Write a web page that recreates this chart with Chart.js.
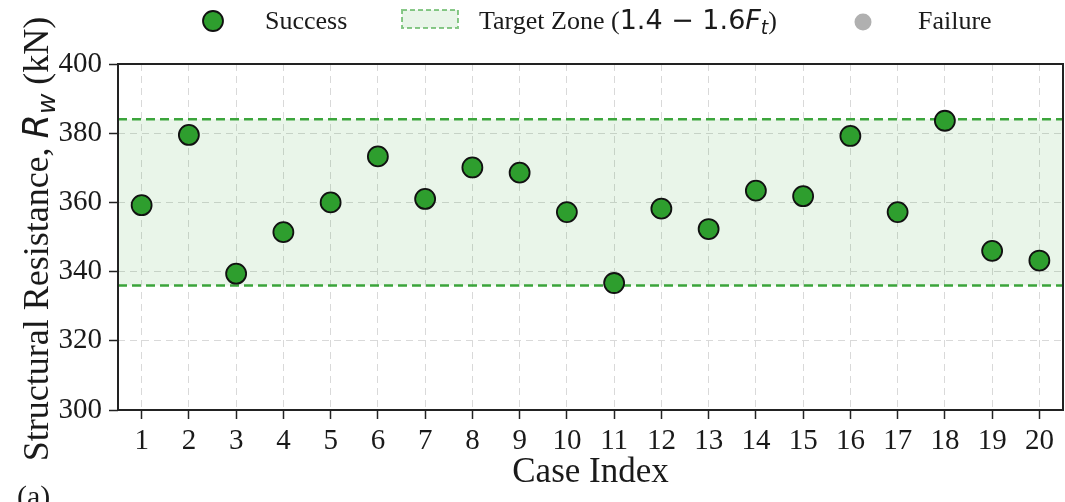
<!DOCTYPE html>
<html>
<head>
<meta charset="utf-8">
<script src="https://cdn.jsdelivr.net/npm/chart.js@4.4.1/dist/chart.umd.min.js"></script>
<style>
  html, body { margin: 0; padding: 0; background: #fff; }
  #wrap { position: relative; width: 1065px; height: 502px; }
</style>
</head>
<body>
<div id="wrap"><canvas id="grafico"></canvas></div>
<script>
// Dados
const caseIndex = [1, 2, 3, 4, 5, 6, 7, 8, 9, 10, 11, 12, 13, 14, 15, 16, 17, 18, 19, 20];
const resistance = [359.2, 379.5, 339.4, 351.4, 360.0, 373.3, 361.0, 370.1, 368.6, 357.2,
                    336.7, 358.2, 352.3, 363.4, 361.8, 379.2, 357.2, 383.6, 346.0, 343.2];
const failureCases = [];
const failureValues = [];
const Ft = 240;
const zoneFactors = [1.4, 1.6];
const yTicks = [300, 320, 340, 360, 380, 400];
const xRange = [0.5, 20.5];

const SERIF = '"Liberation Serif", "Times New Roman", serif';
const MATH = '"DejaVu Sans", sans-serif';
const TEXTO = '#1a1a1a';
const VERDE = '#2e9e2e';
const LINHA_ZONA = '#3ca53c';

const zonaInferior = Ft * zoneFactors[0];
const zonaSuperior = Ft * zoneFactors[1];

// desenha uma sequência de trechos com fontes diferentes (texto + "mathtext")
function medirTrechos(ctx, trechos) {
    let w = 0;
    trechos.forEach(t => { ctx.font = t.font; w += ctx.measureText(t.text).width; });
    return w;
}
function desenharTrechos(ctx, trechos, x, y) {
    let cx = x;
    trechos.forEach(t => {
        ctx.font = t.font;
        ctx.fillText(t.text, cx, y + (t.dy || 0));
        cx += ctx.measureText(t.text).width;
    });
}

const pluginExtras = {
    id: 'extras',
    afterDraw(chart) {
        const { ctx, chartArea: a } = chart;
        ctx.save();

        // moldura
        ctx.strokeStyle = '#222';
        ctx.lineWidth = 2;
        ctx.strokeRect(a.left, a.top, a.right - a.left, a.bottom - a.top);

        ctx.fillStyle = TEXTO;
        ctx.textBaseline = 'alphabetic';
        ctx.textAlign = 'left';

        // título do eixo y
        const tituloY = [
            { text: 'Structural Resistance, ', font: `36px ${SERIF}` },
            { text: 'R', font: `italic 35px ${MATH}` },
            { text: 'w', font: `italic 25px ${MATH}`, dy: 7 },
            { text: ' (kN)', font: `36px ${SERIF}` }
        ];
        ctx.save();
        ctx.translate(48, (a.top + a.bottom) / 2 + 2);
        ctx.rotate(-Math.PI / 2);
        desenharTrechos(ctx, tituloY, -medirTrechos(ctx, tituloY) / 2, 0);
        ctx.restore();

        // legenda
        const yLeg = 21;
        ctx.beginPath();
        ctx.arc(213, yLeg, 10, 0, Math.PI * 2);
        ctx.fillStyle = VERDE; ctx.fill();
        ctx.lineWidth = 1.8; ctx.strokeStyle = '#111'; ctx.stroke();

        ctx.fillStyle = TEXTO;
        desenharTrechos(ctx, [{ text: 'Success', font: `26px ${SERIF}` }], 265, 29);

        ctx.fillStyle = 'rgba(44,160,44,0.1)';
        ctx.fillRect(402, 10, 56, 18);
        ctx.setLineDash([5, 3]);
        ctx.lineWidth = 2;
        ctx.strokeStyle = 'rgba(60,165,60,0.6)';
        ctx.strokeRect(402, 10, 56, 18);
        ctx.setLineDash([]);

        ctx.fillStyle = TEXTO;
        desenharTrechos(ctx, [
            { text: 'Target Zone (', font: `26px ${SERIF}` },
            { text: '1.4 \u2212 1.6', font: `27px ${MATH}` },
            { text: 'F', font: `italic 27px ${MATH}` },
            { text: 't', font: `italic 19px ${MATH}`, dy: 5 },
            { text: ')', font: `26px ${SERIF}` }
        ], 479, 29);

        ctx.beginPath();
        ctx.arc(863, yLeg + 1, 8.5, 0, Math.PI * 2);
        ctx.fillStyle = '#b0b0b0'; ctx.fill();

        ctx.fillStyle = TEXTO;
        desenharTrechos(ctx, [{ text: 'Failure', font: `26px ${SERIF}` }], 918, 29);

        // rótulo do painel
        desenharTrechos(ctx, [{ text: '(a)', font: `30px ${SERIF}` }], 17, 506);

        ctx.restore();
    }
};

const gradeComum = {
    color: '#d9d9d9', lineWidth: 1,
    tickColor: '#222', tickWidth: 1.5, tickLength: 9, tickBorderDash: []
};

new Chart(document.getElementById('grafico'), {
    type: 'scatter',
    data: {
        datasets: [
            {
                label: 'zonaInferior',
                data: xRange.map(x => ({ x, y: zonaInferior })),
                showLine: true, fill: false, pointRadius: 0,
                borderColor: LINHA_ZONA, borderWidth: 2.5, borderDash: [9, 5],
                order: 3
            },
            {
                label: 'Target Zone',
                data: xRange.map(x => ({ x, y: zonaSuperior })),
                showLine: true, fill: '-1', pointRadius: 0,
                backgroundColor: 'rgba(44,160,44,0.1)',
                borderColor: LINHA_ZONA, borderWidth: 2.5, borderDash: [9, 5],
                order: 2
            },
            {
                label: 'Success',
                data: caseIndex.map((c, i) => ({ x: c, y: resistance[i] })),
                pointRadius: 10, pointBackgroundColor: VERDE,
                pointBorderColor: '#111', pointBorderWidth: 1.8,
                order: 0
            },
            {
                label: 'Failure',
                data: failureCases.map((c, i) => ({ x: c, y: failureValues[i] })),
                pointRadius: 8.5, pointBackgroundColor: '#b0b0b0', pointBorderWidth: 0,
                order: 1
            }
        ]
    },
    options: {
        responsive: true, maintainAspectRatio: false, animation: false, events: [],
        layout: { autoPadding: false, padding: { top: 64, right: 2, bottom: 0, left: 0 } },
        plugins: { legend: { display: false }, tooltip: { enabled: false } },
        scales: {
            x: {
                type: 'linear', min: xRange[0], max: xRange[1],
                afterBuildTicks: s => { s.ticks = caseIndex.map(v => ({ value: v })); },
                afterFit: s => { s.height = 92; s.paddingLeft = 0; s.paddingRight = 0; },
                grid: gradeComum,
                border: { display: false, dash: [7, 5] },
                ticks: { color: TEXTO, font: { family: SERIF, size: 29 }, padding: 5, maxRotation: 0, autoSkip: false },
                title: { display: true, text: 'Case Index', color: TEXTO, font: { family: SERIF, size: 35 }, padding: { top: 0, bottom: 8 } }
            },
            y: {
                min: 300, max: 400,
                afterBuildTicks: s => { s.ticks = yTicks.map(v => ({ value: v })); },
                afterFit: s => { s.width = 118; s.paddingTop = 0; s.paddingBottom = 0; },
                grid: gradeComum,
                border: { display: false, dash: [7, 5] },
                ticks: { color: TEXTO, font: { family: SERIF, size: 29 }, padding: 7 }
            }
        }
    },
    plugins: [pluginExtras]
});
</script>
</body>
</html>
